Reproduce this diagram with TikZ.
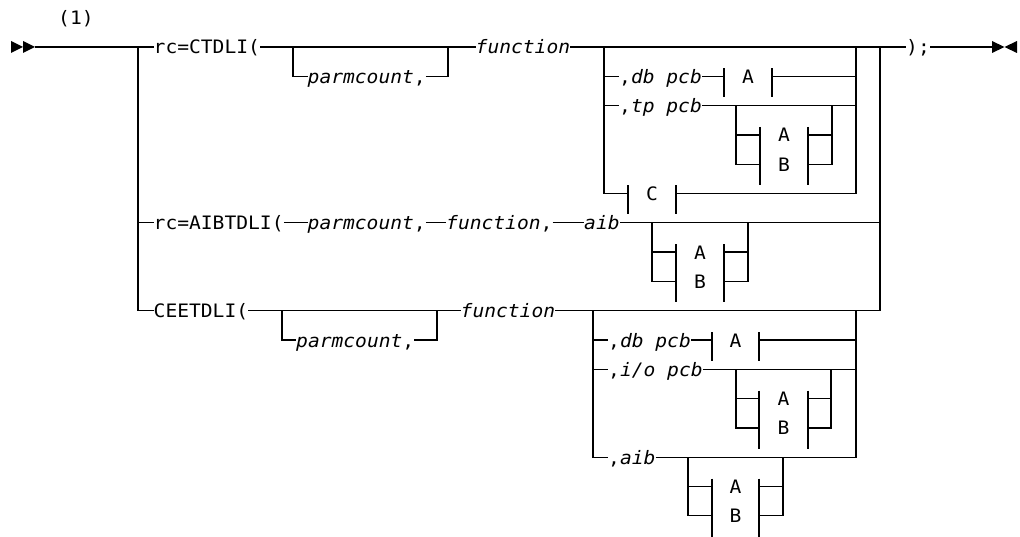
\documentclass[tikz,border=0pt]{standalone}
\usepackage{fontspec}
\setmonofont[FakeStretch=1.06]{DejaVu Sans Mono}
\def\yA{47}\def\yB{76.3}\def\yC{105.6}\def\yD{134.9}\def\yE{164.2}\def\yF{193.5}
\def\yG{222.8}\def\yH{252.1}\def\yI{281.4}\def\yJ{310.7}\def\yK{340}\def\yL{369.3}
\def\yM{398.6}\def\yN{427.9}\def\yO{457.2}\def\yP{486.5}\def\yQ{515.8}
% fragment reference box: #1 xL, #2 xR, #3 row, #4 label, #5 name
\newcommand\fragbox[5]{%
  \draw[rail] (#1,#3-8) -- (#1,#3+21);
  \draw[rail] (#2,#3-8) -- (#2,#3+21);
  \node[lbl,anchor=center] (#5) at ({(#1+#2)/2},#3) {#4};
}
% optional choice of A or B: #1 left rail x, #2 xL, #3 xR, #4 right rail x, #5 main row, #6 row A, #7 row B, #8 name prefix
\newcommand\choicestack[8]{%
  \draw[rail] (#1,#5) -- (#1,#7) -- (#2,#7);
  \draw[rail] (#1,#6) -- (#2,#6);
  \draw[rail] (#4,#5) -- (#4,#7) -- (#3,#7);
  \draw[rail] (#4,#6) -- (#3,#6);
  \draw[rail] (#2,#6-8) -- (#2,#7+21);
  \draw[rail] (#3,#6-8) -- (#3,#7+21);
  \node[lbl,anchor=center] (#8a) at ({(#2+#3)/2},#6) {A};
  \node[lbl,anchor=center] (#8b) at ({(#2+#3)/2},#7) {B};
}
\begin{document}
\begin{tikzpicture}[x=1pt,y=-1pt,
  rail/.style={line width=1.3pt},
  lbl/.style={inner sep=0pt, text height=14pt, text depth=0pt,
    font=\fontsize{18.5}{22}\selectfont\ttfamily, anchor=west},
  tipfill/.style={fill=black, draw=none}]
\useasboundingbox (0,0) rectangle (1020,537);

% start and end marks
\fill[tipfill] (11,\yA-6) -- (23,\yA) -- (11,\yA+6) -- cycle;
\fill[tipfill] (23,\yA-6) -- (35,\yA) -- (23,\yA+6) -- cycle;
\fill[tipfill] (992,\yA-6) -- (1004.5,\yA) -- (992,\yA+6) -- cycle;
\fill[tipfill] (1017,\yA-6) -- (1004.5,\yA) -- (1017,\yA+6) -- cycle;
\coordinate (st) at (35,\yA);
\coordinate (en) at (992,\yA);
\node[lbl] (note) at (58,18) {(1)};

% trunk
\coordinate (j0) at (138,\yA);
\node[lbl] (rc1) at (153.5,\yA) {rc=CTDLI(};
\node[lbl] (rc2) at (153.5,\yG) {rc=AIBTDLI(};
\node[lbl] (rc3) at (153.5,\yJ) {CEETDLI(};
\draw[rail] (st) -- (rc1.west);
\draw[rail] (j0) |- (rc3.west);
\draw[rail] (j0 |- rc2.west) -- (rc2.west);

% CTDLI row
\node[lbl] (pc1) at (307.5,\yB) {\textit{parmcount},};
\node[lbl] (fn1) at (475.5,\yA) {\textit{function}};
\node[lbl] (fin) at (906,\yA) {);};
\draw[rail] (rc1.east) -- (fn1.west);
\draw[rail] (293,\yA) |- (pc1.west);
\draw[rail] (pc1.east) -| (448,\yA);
\draw[rail] (fn1.east) -- (fin.west);
\draw[rail] (fin.east) -- (en);

% CTDLI options
\node[lbl] (db1) at (619,\yB) {,\textit{db pcb}};
\node[lbl] (tp1) at (619,\yC) {,\textit{tp pcb}};
\draw[rail] (604,\yA) -- (604,\yF) -- (628,\yF);
\draw[rail] (604,\yB) -- (db1.west);
\draw[rail] (604,\yC) -- (tp1.west);
\fragbox{724}{772}{\yB}{A}{a1}
\draw[rail] (db1.east) -- (724,\yB);
\draw[rail] (772,\yB) -- (856,\yB);
\draw[rail] (tp1.east) -- (856,\yC);
\choicestack{736}{760}{808}{832}{\yC}{\yD}{\yE}{s1}
\fragbox{628}{676}{\yF}{C}{c1}
\draw[rail] (676,\yF) -- (856,\yF) -- (856,\yA);
\draw[rail] (880,\yA) -- (880,\yJ);

% AIBTDLI row
\node[lbl] (pc2) at (307.5,\yG) {\textit{parmcount},};
\node[lbl] (fn2) at (446,\yG) {\textit{function},};
\node[lbl] (ai2) at (584,\yG) {\textit{aib}};
\draw[rail] (rc2.east) -- (pc2.west);
\draw[rail] (pc2.east) -- (fn2.west);
\draw[rail] (fn2.east) -- (ai2.west);
\draw[rail] (ai2.east) -- (880,\yG);
\choicestack{652}{676}{724}{748}{\yG}{\yH}{\yI}{s2}

% CEETDLI row
\node[lbl] (pc3) at (296,\yK) {\textit{parmcount},};
\node[lbl] (fn3) at (460.5,\yJ) {\textit{function}};
\draw[rail] (rc3.east) -- (fn3.west);
\draw[rail] (282,\yJ) |- (pc3.west);
\draw[rail] (pc3.east) -| (437,\yJ);
\draw[rail] (fn3.east) -- (880,\yJ);

% CEETDLI options
\node[lbl] (db3) at (608,\yK) {,\textit{db pcb}};
\node[lbl] (io3) at (608,\yL) {,\textit{i/o pcb}};
\node[lbl] (ai3) at (608,\yO) {,\textit{aib}};
\draw[rail] (593,\yJ) |- (ai3.west);
\draw[rail] (593,\yK) -- (db3.west);
\draw[rail] (593,\yL) -- (io3.west);
\fragbox{712}{759}{\yK}{A}{a5}
\draw[rail] (db3.east) -- (712,\yK);
\draw[rail] (759,\yK) -- (856,\yK);
\draw[rail] (io3.east) -- (856,\yL);
\choicestack{736}{759}{808}{831}{\yL}{\yM}{\yN}{s3}
\draw[rail] (ai3.east) -- (856,\yO) -- (856,\yJ);
\choicestack{688}{712}{759}{783}{\yO}{\yP}{\yQ}{s4}
\end{tikzpicture}
\end{document}
